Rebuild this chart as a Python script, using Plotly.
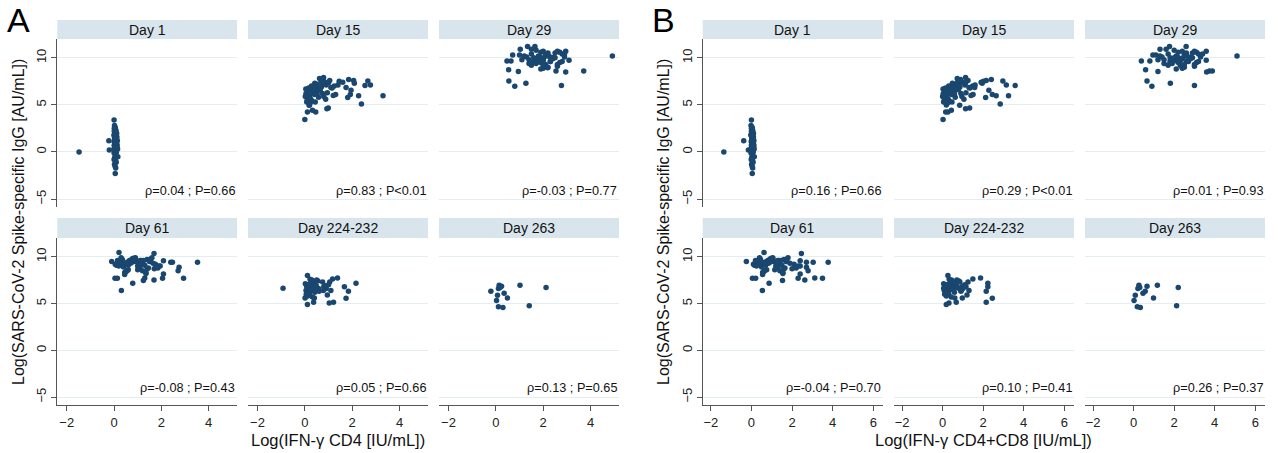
import plotly.graph_objects as go

W, H = 1278, 453

days = ["Day 1", "Day 15", "Day 29", "Day 61", "Day 224-232", "Day 263"]

# ---------------- data (y shared: IgG; xA: CD4, xB: CD4+CD8) ----------------
y1 = [0.00, 1.20, 0.20, 3.40, 2.80, 2.60, 2.45, 2.30, 2.20, 2.10,
      2.00, 1.90, 1.80, 1.70, 1.60, 1.50, 1.40, 1.30, 1.20, 1.10,
      1.00, 0.90, 0.80, 0.70, 0.60, 0.50, 0.40, 0.30, 0.20, 0.10,
      0.00, -0.10, -0.30, -0.50, -0.60, -0.80, -1.00, -1.10, -1.30, -1.50,
      -1.70, -2.30, 2.50, 1.95, 1.55, 1.15, 0.75, 0.35, -0.05, 1.85,
      1.25, 0.65, 0.25, -0.90, 1.45, 2.15, 0.95, 1.75, 1.05, 0.55]
xA1 = [-1.48, -0.22, -0.20, 0.00, 0.02, 0.05, 0.03, 0.08, 0.01, 0.06,
       0.10, 0.04, 0.00, 0.07, 0.12, 0.02, 0.09, 0.05, 0.14, 0.00,
       0.03, 0.10, 0.06, 0.01, 0.08, 0.12, 0.04, 0.15, 0.02, 0.07,
       0.10, 0.00, 0.05, 0.16, 0.03, 0.00, 0.06, 0.09, 0.02, 0.04,
       0.07, 0.05, 0.01, 0.11, 0.06, 0.03, 0.13, 0.00, 0.08, 0.04,
       0.09, 0.02, 0.12, 0.06, 0.10, 0.03, 0.07, 0.01, 0.05, 0.11]
xB1 = [-1.36, -0.38, -0.15, 0.00, -0.02, 0.04, 0.02, 0.06, 0.00, 0.05,
       0.08, 0.03, -0.03, 0.06, 0.10, 0.01, 0.07, 0.04, 0.12, -0.01,
       0.02, 0.09, 0.05, 0.00, 0.07, 0.11, 0.03, 0.13, 0.01, 0.06,
       0.08, -0.02, 0.04, 0.14, 0.02, -0.01, 0.05, 0.08, 0.01, 0.03,
       0.06, 0.04, 0.00, 0.10, 0.05, 0.02, 0.12, -0.02, 0.07, 0.03,
       0.08, 0.01, 0.11, 0.05, 0.09, 0.02, 0.06, 0.00, 0.04, 0.10]

y15 = [3.44, 5.96, 5.10, 7.55, 7.10, 7.05, 7.70, 7.60, 7.30, 5.96,
       6.56, 5.78, 6.10, 7.40, 7.50, 6.84, 7.00, 6.84, 7.34, 7.90,
       4.68, 4.60, 4.25, 4.43, 4.25, 4.96,
       6.2, 5.8, 6.5, 7.0, 5.5, 6.8, 6.0, 7.2, 5.3, 6.4,
       6.9, 5.9, 7.4, 6.1, 5.6, 6.7, 7.1, 6.3, 5.4, 6.6,
       7.6, 5.7, 6.2, 7.3, 6.0, 5.2, 6.8, 6.4, 7.0, 5.9,
       6.5, 7.8, 5.5, 6.1, 6.9, 6.3, 5.0, 7.2, 6.6, 5.8,
       6.0, 7.5, 6.7, 5.6, 6.4, 7.1, 6.2, 5.3, 6.8, 7.7]
xA15 = [0.00, 3.30, 2.39, 2.66, 2.77, 2.54, 1.85, 2.06, 2.09, 2.27,
        1.95, 1.81, 1.92, 1.60, 1.45, 1.74, 1.24, 1.10, 1.00, 0.79,
        0.99, 0.93, 0.46, 0.32, 0.11, 0.18,
        0.05, 0.15, 0.30, 0.45, 0.10, 0.60, 0.20, 0.50, 0.08, 0.35,
        0.70, 0.02, 0.85, 0.40, 0.25, 0.55, 0.90, 0.12, 0.30, 0.65,
        1.05, 0.18, 0.75, 0.42, 0.06, 0.22, 1.15, 0.50, 0.28, 0.80,
        0.38, 0.62, 0.14, 1.30, 0.48, 0.95, 0.20, 0.72, 0.33, 0.58,
        1.20, 0.68, 0.04, 0.88, 0.26, 1.40, 0.52, 0.44, 0.16, 0.78]
xB15 = [0.02, 3.25, 2.84, 2.97, 3.14, 3.58, 2.40, 2.15, 1.95, 2.64,
        2.28, 2.12, 2.45, 1.90, 2.02, 1.58, 1.48, 1.30, 1.13, 1.13,
        1.33, 1.13, 0.26, 0.43, 0.15, 0.84,
        0.03, 0.12, 0.35, 0.50, 0.08, 0.70, 0.22, 0.60, 0.05, 0.40,
        0.85, 0.00, 1.00, 0.45, 0.28, 0.65, 1.10, 0.15, 0.32, 0.78,
        1.25, 0.20, 0.90, 0.48, 0.04, 0.25, 1.35, 0.55, 0.30, 0.95,
        0.42, 0.72, 0.10, 1.50, 0.52, 1.15, 0.18, 0.82, 0.36, 0.62,
        1.40, 0.75, 0.02, 1.05, 0.27, 1.60, 0.58, 0.46, 0.14, 0.88]

y29 = [10.2, 8.6, 7.06, 7.3, 6.98, 7.55, 8.72, 8.55, 9.65, 9.65,
       10.3, 10.9, 11.2, 11.2, 8.5, 9.75, 10.7, 8.8, 8.95, 8.6,
       10.1, 9.9, 10.4, 9.6, 10.0, 10.2, 9.8, 10.5, 9.4, 10.3,
       9.7, 10.0, 10.6, 9.5, 10.1, 9.9, 10.8, 9.3, 10.2, 9.0,
       10.4, 9.8, 10.0, 9.6, 10.7, 9.2, 10.1, 9.9, 10.3, 9.5,
       10.0, 10.9, 9.7, 9.1, 10.2, 9.8, 10.5, 9.4, 10.0, 9.6,
       10.3, 8.9, 10.1, 9.7, 10.6, 9.3, 10.0, 9.9, 10.4, 9.5,
       10.2, 9.8, 10.7, 9.2, 10.0]
xA29 = [4.92, 3.71, 2.77, 1.27, 0.80, 0.55, 0.54, 0.95, 0.47, 0.64,
        0.71, 1.03, 1.34, 1.65, 2.95, 3.09, 2.95, 1.90, 2.19, 2.54,
        1.8, 2.0, 1.5, 2.3, 1.9, 2.1, 1.7, 2.5, 1.4, 2.2,
        1.6, 2.4, 1.9, 2.7, 1.3, 2.0, 1.7, 2.6, 1.8, 2.2,
        2.8, 1.1, 1.9, 2.3, 2.0, 1.5, 2.9, 1.8, 2.1, 1.6,
        2.4, 1.5, 2.0, 2.6, 1.2, 1.9, 2.2, 1.7, 2.5, 2.8,
        1.0, 2.0, 2.3, 1.8, 2.7, 2.1, 1.6, 2.4, 2.9, 1.9,
        2.2, 1.4, 2.6, 2.0, 1.8]
xB29 = [5.10, 3.74, 3.00, 1.81, 0.90, 0.66, 0.59, 1.20, 0.38, 0.80,
        0.95, 1.30, 1.77, 2.59, 3.60, 3.58, 3.58, 2.10, 2.40, 3.88,
        2.1, 2.4, 1.7, 2.6, 2.2, 2.5, 1.9, 2.9, 1.5, 2.6,
        1.8, 2.8, 2.2, 3.1, 1.4, 2.3, 2.0, 3.0, 2.1, 2.5,
        3.2, 1.2, 2.2, 2.7, 2.4, 1.7, 3.3, 2.0, 2.5, 1.8,
        2.8, 1.6, 2.3, 3.0, 1.3, 2.2, 2.6, 1.9, 2.9, 3.2,
        1.1, 2.4, 2.7, 2.1, 3.1, 2.5, 1.8, 2.8, 3.4, 2.2,
        2.6, 1.5, 3.0, 2.3, 2.0]

y61 = [10.46, 10.35, 9.50, 9.40, 7.70, 6.38, 7.16, 7.70, 7.70, 7.45,
       7.50, 7.70, 8.16, 8.50, 8.87, 9.40, 9.40, 9.57, 7.73,
       9.6, 9.2, 9.8, 8.9, 9.4, 9.7, 8.6, 9.5, 9.9, 9.1,
       8.3, 9.6, 9.3, 8.8, 9.7, 9.0, 9.5, 8.5, 9.8, 9.2,
       9.4, 8.7, 9.6, 9.1, 8.2, 9.9, 9.3, 9.5, 8.9, 9.7,
       9.0, 8.4, 9.6, 9.2, 9.8, 8.8, 9.4, 9.1, 9.7, 8.6,
       9.5, 9.3, 8.1, 9.6, 9.0, 9.8, 8.7, 9.4, 9.2, 9.9,
       8.5, 9.5, 9.1, 9.7, 8.9, 9.3, 9.6, 8.3, 9.4, 9.0]
xA61 = [0.21, 1.69, -0.10, 3.53, 2.94, 0.31, 0.79, 0.04, 0.14, 1.24,
        1.69, 2.05, 2.09, 2.71, 2.75, 2.40, 2.47, 2.09, 1.30,
        0.20, 0.50, 0.80, 1.10, 0.35, 1.40, 0.60, 0.95, 1.60, 0.10,
        0.45, 1.25, 0.70, 1.85, 0.30, 1.00, 1.50, 0.55, 0.85, 1.20,
        0.15, 1.70, 0.65, 0.40, 1.35, 0.90, 0.25, 1.55, 1.05, 0.75,
        1.95, 0.50, 1.15, 0.05, 0.80, 1.45, 0.60, 1.30, 0.35, 1.00,
        0.70, 1.65, 0.45, 1.10, 0.20, 0.90, 1.40, 0.55, 1.75, 0.30,
        1.20, 0.85, 0.60, 1.50, 0.40, 1.05, 0.15, 1.35, 0.75, 1.90]
xB61 = [0.62, 2.46, -0.25, 3.78, 3.50, 0.54, 0.87, 0.05, 0.21, 1.53,
        2.63, 2.30, 2.40, 2.79, 2.71, 3.04, 2.71, 2.40, 3.12,
        0.30, 0.60, 1.00, 1.30, 0.45, 1.60, 0.75, 1.10, 1.80, 0.15,
        0.55, 1.45, 0.85, 2.20, 0.40, 1.20, 1.70, 0.65, 1.00, 1.40,
        0.20, 2.00, 0.80, 0.50, 1.55, 1.05, 0.35, 1.75, 1.25, 0.90,
        2.40, 0.60, 1.35, 0.10, 0.95, 1.65, 0.70, 1.50, 0.45, 1.15,
        0.85, 1.90, 0.55, 1.30, 0.25, 1.05, 1.60, 0.65, 2.10, 0.40,
        1.40, 1.00, 0.70, 1.70, 0.50, 1.25, 0.20, 1.55, 0.90, 2.30]

y224 = [6.63, 7.16, 7.73, 7.62, 7.98, 6.80, 6.31, 5.57, 5.14, 5.04,
        4.90, 5.14, 5.60,
        7.0, 6.6, 7.3, 6.2, 6.9, 7.5, 6.4, 6.0, 7.1, 6.7,
        5.8, 7.4, 6.5, 6.8, 7.2, 6.1, 6.3, 7.6, 6.9, 5.9,
        7.0, 6.6, 7.3, 6.4, 6.8, 5.7, 7.1, 6.2, 6.5, 7.4,
        6.7, 6.0, 7.2, 6.3, 6.9, 7.5, 6.1, 6.6, 7.0, 5.6,
        6.8, 7.3, 6.4, 7.1, 6.5]
xA224 = [-0.92, 2.16, 1.38, 1.17, 0.11, 1.67, 1.84, 1.74, 1.21, 1.03,
         0.11, 0.37, 0.01,
         0.10, 0.25, 0.40, 0.15, 0.30, 0.50, 0.05, 0.20, 0.35, 0.45,
         0.12, 0.55, 0.28, 0.08, 0.38, 0.18, 0.60, 0.22, 0.85, 0.95,
         1.00, 0.90, 0.75, 1.10, 0.80, 0.32, 0.02, 0.42, 0.14, 0.26,
         0.50, 0.06, 0.36, 0.20, 0.48, 0.30, 0.10, 0.58, 0.16, 0.40,
         0.88, 1.05, 0.78, 0.24, 0.34]
xB224 = [0.05, 2.23, 1.87, 1.49, 0.26, 2.23, 2.15, 2.45, 2.15, 0.31,
         0.18, 0.67, 0.97,
         0.15, 0.35, 0.55, 0.20, 0.45, 0.70, 0.08, 0.30, 0.50, 0.65,
         0.18, 0.80, 0.40, 0.12, 0.60, 0.25, 0.90, 0.32, 1.05, 1.20,
         1.10, 1.00, 0.85, 1.30, 0.95, 0.42, 0.05, 0.58, 0.22, 0.38,
         0.72, 0.10, 0.52, 0.28, 0.68, 0.44, 0.14, 0.82, 0.24, 0.60,
         1.15, 1.25, 0.92, 0.34, 0.48]

y263 = [6.31, 5.89, 5.32, 4.65, 4.57, 6.95, 6.84, 6.60, 6.10, 5.60,
        6.95, 4.75, 6.70, 6.70]
xA263 = [-0.21, 0.07, 0.03, 0.11, 0.30, 0.14, 0.24, 0.11, 0.35, 0.49,
         1.02, 1.41, 2.12, 0.18]
xB263 = [0.57, 0.08, 0.02, 0.18, 0.33, 0.26, 0.66, 0.21, 0.46, 0.98,
         1.17, 2.12, 2.20, 0.30]

rhoA = ["ρ=0.04 ; P=0.66", "ρ=0.83 ; P<0.01", "ρ=-0.03 ; P=0.77",
        "ρ=-0.08 ; P=0.43", "ρ=0.05 ; P=0.66", "ρ=0.13 ; P=0.65"]
rhoB = ["ρ=0.16 ; P=0.66", "ρ=0.29 ; P<0.01", "ρ=0.01 ; P=0.93",
        "ρ=-0.04 ; P=0.70", "ρ=0.10 ; P=0.41", "ρ=0.26 ; P=0.37"]

y_ticks = [-5, 0, 5, 10]
xA_ticks = [-2, 0, 2, 4]
xB_ticks = [-2, 0, 2, 4, 6]

ys = [y1, y15, y29, y61, y224, y263]
xAs = [xA1, xA15, xA29, xA61, xA224, xA263]
xBs = [xB1, xB15, xB29, xB61, xB224, xB263]

# ---------------- layout geometry (pixels) ----------------
FONT = "Liberation Sans, Arial, sans-serif"
NAVY = "#1a476f"
STRIP = "#d9e5ec"
GRID = "#e4edf0"
AXC = "#555555"

rows = [(39, 207), (238, 405)]
strips = [(20, 39), (218, 238)]
panels = [
    dict(letter="A", lx=18, cols=[(57.3, 237), (248, 428), (439, 619)],
         xr=[-2.4, 5.2], xt=xA_ticks, xs=xAs, rho=rhoA,
         xtitle="Log(IFN-γ CD4 [IU/mL])", ytx=18),
    dict(letter="B", lx=664, cols=[(702.7, 883), (894, 1074), (1085, 1265)],
         xr=[-2.4, 6.48], xt=xB_ticks, xs=xBs, rho=rhoB,
         xtitle="Log(IFN-γ CD4+CD8 [IU/mL])", ytx=663),
]
YR = [-5.85, 12]


def fx(p):
    return p / W


def fy(p):
    return 1 - p / H


fig = go.Figure()
layout = {}
shapes = []
annotations = []
k = 0
for pan in panels:
    for f in range(6):
        r, c = divmod(f, 3)
        k += 1
        xl, xr_ = pan["cols"][c]
        yt, yb = rows[r]
        xa = "xaxis" if k == 1 else f"xaxis{k}"
        ya = "yaxis" if k == 1 else f"yaxis{k}"
        xref = "x" if k == 1 else f"x{k}"
        yref = "y" if k == 1 else f"y{k}"
        bottom = r == 1
        left = c == 0
        layout[xa] = dict(
            domain=[fx(xl), fx(xr_)], range=pan["xr"], anchor=yref,
            tickvals=pan["xt"], showgrid=False, zeroline=False,
            showline=bottom, linecolor=AXC, linewidth=1,
            ticks="outside" if bottom else "", ticklen=5, tickcolor=AXC,
            showticklabels=bottom, tickfont=dict(size=13, color="#222"),
        )
        layout[ya] = dict(
            domain=[fy(yb), fy(yt)], range=YR, anchor=xref,
            tickvals=y_ticks, showgrid=True, gridcolor=GRID, gridwidth=1,
            zeroline=False, showline=left, linecolor=AXC, linewidth=1,
            ticks="outside" if left else "", ticklen=5, tickcolor=AXC,
            showticklabels=left, tickangle=-90,
            tickfont=dict(size=13, color="#222"),
        )
        fig.add_trace(go.Scatter(
            x=pan["xs"][f], y=ys[f], mode="markers", xaxis=xref, yaxis=yref,
            marker=dict(color=NAVY, size=5.5, line=dict(width=0)),
            showlegend=False, hoverinfo="skip"))
        st, sb = strips[r]
        shapes.append(dict(type="rect", xref="paper", yref="paper",
                           x0=fx(xl), x1=fx(xr_), y0=fy(sb), y1=fy(st),
                           fillcolor=STRIP, line=dict(width=0), layer="below"))
        annotations.append(dict(text=days[f], xref="paper", yref="paper",
                                x=fx((xl + xr_) / 2), y=fy((st + sb) / 2),
                                xanchor="center", yanchor="middle",
                                showarrow=False,
                                font=dict(size=14, color="#111", family=FONT)))
        ry = 191 if r == 0 else 388
        annotations.append(dict(text=pan["rho"][f], xref="paper", yref="paper",
                                x=fx(xr_ - 0.5), y=fy(ry), xanchor="right",
                                yanchor="middle", showarrow=False,
                                font=dict(size=12.7, color="#111", family=FONT)))
    # panel letter
    annotations.append(dict(text=pan["letter"], xref="paper", yref="paper",
                            x=fx(pan["lx"]), y=fy(20), xanchor="center",
                            yanchor="middle", showarrow=False,
                            font=dict(size=34, color="#000", family=FONT)))
    # x title
    cx = (pan["cols"][0][0] + pan["cols"][2][1]) / 2
    annotations.append(dict(text=pan["xtitle"], xref="paper", yref="paper",
                            x=fx(cx), y=fy(440), xanchor="center",
                            yanchor="middle", showarrow=False,
                            font=dict(size=16.5, color="#111", family=FONT)))
    # y title
    annotations.append(dict(text="Log(SARS-CoV-2 Spike-specific IgG [AU/mL])",
                            xref="paper", yref="paper", x=fx(pan["ytx"]),
                            y=fy(222), xanchor="center", yanchor="middle",
                            textangle=-90, showarrow=False,
                            font=dict(size=16, color="#111", family=FONT)))

fig.update_layout(
    width=W, height=H, margin=dict(l=0, r=0, t=0, b=0),
    paper_bgcolor="white", plot_bgcolor="white",
    font=dict(family=FONT, color="#222"),
    shapes=shapes, annotations=annotations, **layout)

fig.write_html("out.html", config={"displayModeBar": False})
